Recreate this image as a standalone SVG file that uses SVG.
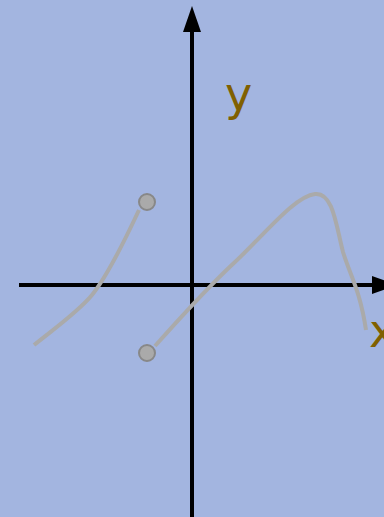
<svg xmlns="http://www.w3.org/2000/svg" width="384" height="517" viewBox="0 0 384 517">
<defs>
<style>
.axis{stroke:#000;stroke-width:4;fill:none}
.curve{stroke:#aaaaaa;stroke-width:4;fill:none}
.pt{fill:#aaaaaa;stroke:#888888;stroke-width:2}
.lbl{font-family:"DejaVu Sans",sans-serif;font-size:46px;fill:#806000}
</style>
</defs>
<rect width="384" height="517" fill="#a3b5e0"/>
<g id="axes">
<line class="axis" x1="192" y1="517" x2="192" y2="30"/>
<polygon points="192,6 183,32 201,32" fill="#000"/>
<line class="axis" x1="19" y1="285" x2="374" y2="285"/>
<polygon points="398,285 372,276 372,294" fill="#000"/>
</g>
<g id="labels">
<text class="lbl" x="225" y="110">y</text>
<text class="lbl" x="369" y="347">x</text>
</g>
<g id="curves">
<path class="curve" d="M34,345 C55,328 78,312 92,295 C108,275 125,240 139,210"/>
<path class="curve" d="M155,346 C180,318 210,285 235,262 C265,234 295,196 315,194 C333,192 336,225 343,252 C350,275 360,290 366,330"/>
</g>
<g id="p1"><circle class="pt" cx="147" cy="202" r="8"/></g>
<g id="p2"><circle class="pt" cx="147" cy="353" r="8"/></g>
</svg>
